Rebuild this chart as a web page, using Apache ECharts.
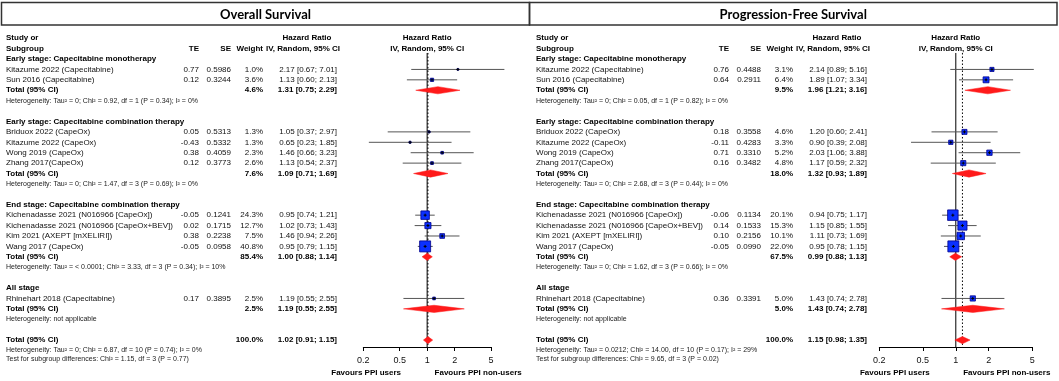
<!DOCTYPE html>
<html>
<head>
<meta charset="utf-8">
<script src="https://cdn.jsdelivr.net/npm/echarts@6/dist/echarts.min.js"></script>
<style>
html, body { margin: 0; padding: 0; background: #fff; }
#chart { width: 1059px; height: 381px; }
</style>
</head>
<body>
<div id="chart"></div>
<script>
// subgroups and studies (same in both panels)
const groupNames = ['Early stage: Capecitabine monotherapy', 'Early stage: Capecitabine combination therapy',
    'End stage: Capecitabine combination therapy', 'All stage'];
const studyNames = ['Kitazume 2022 (Capecitabine)', 'Sun 2016 (Capecitabine)', 'Briduox 2022 (CapeOx)',
    'Kitazume 2022 (CapeOx)', 'Wong 2019 (CapeOx)', 'Zhang 2017(CapeOx)', 'Kichenadasse 2021 (N016966 [CapeOx])',
    'Kichenadasse 2021 (N016966 [CapeOx+BEV])', 'Kim 2021 (AXEPT [mXELIRI])', 'Wang 2017 (CapeOx)',
    'Rhinehart 2018 (Capecitabine)'];
const studyGroup = [0, 0, 1, 1, 1, 1, 2, 2, 2, 2, 3];
const axisTicks = [0.2, 0.5, 1, 2, 5];

// Overall Survival
const osTE = [0.77, 0.12, 0.05, -0.43, 0.38, 0.12, -0.05, 0.02, 0.38, -0.05, 0.17];
const osSE = [0.5986, 0.3244, 0.5313, 0.5332, 0.4059, 0.3773, 0.1241, 0.1715, 0.2238, 0.0958, 0.3895];
const osWeight = [1.0, 3.6, 1.3, 1.3, 2.3, 2.6, 24.3, 12.7, 7.5, 40.8, 2.5];
const osHR = [2.17, 1.13, 1.05, 0.65, 1.46, 1.13, 0.95, 1.02, 1.46, 0.95, 1.19];
const osLower = [0.67, 0.60, 0.37, 0.23, 0.66, 0.54, 0.74, 0.73, 0.94, 0.79, 0.55];
const osUpper = [7.01, 2.13, 2.97, 1.85, 3.23, 2.37, 1.21, 1.43, 2.26, 1.15, 2.55];
const osGroupWeight = [4.6, 7.6, 85.4, 2.5];
const osGroupHR = [1.31, 1.09, 1.00, 1.19];
const osGroupLower = [0.75, 0.71, 0.88, 0.55];
const osGroupUpper = [2.29, 1.69, 1.14, 2.55];
const osGroupHet = [
    'Heterogeneity: Tau² = 0; Chi² = 0.92, df = 1 (P = 0.34); I² = 0%',
    'Heterogeneity: Tau² = 0; Chi² = 1.47, df = 3 (P = 0.69); I² = 0%',
    'Heterogeneity: Tau² = < 0.0001; Chi² = 3.33, df = 3 (P = 0.34); I² = 10%',
    'Heterogeneity: not applicable'];
const osTotal = [1.02, 0.91, 1.15];
const osTotalHet = 'Heterogeneity: Tau² = 0; Chi² = 6.87, df = 10 (P = 0.74); I² = 0%';
const osTest = 'Test for subgroup differences: Chi² = 1.15, df = 3 (P = 0.77)';

// Progression-Free Survival
const pfsTE = [0.76, 0.64, 0.18, -0.11, 0.71, 0.16, -0.06, 0.14, 0.10, -0.05, 0.36];
const pfsSE = [0.4488, 0.2911, 0.3558, 0.4283, 0.3310, 0.3482, 0.1134, 0.1533, 0.2156, 0.0990, 0.3391];
const pfsWeight = [3.1, 6.4, 4.6, 3.3, 5.2, 4.8, 20.1, 15.3, 10.1, 22.0, 5.0];
const pfsHR = [2.14, 1.89, 1.20, 0.90, 2.03, 1.17, 0.94, 1.15, 1.11, 0.95, 1.43];
const pfsLower = [0.89, 1.07, 0.60, 0.39, 1.06, 0.59, 0.75, 0.85, 0.73, 0.78, 0.74];
const pfsUpper = [5.16, 3.34, 2.41, 2.08, 3.88, 2.32, 1.17, 1.55, 1.69, 1.15, 2.78];
const pfsGroupWeight = [9.5, 18.0, 67.5, 5.0];
const pfsGroupHR = [1.96, 1.32, 0.99, 1.43];
const pfsGroupLower = [1.21, 0.93, 0.88, 0.74];
const pfsGroupUpper = [3.16, 1.89, 1.13, 2.78];
const pfsGroupHet = [
    'Heterogeneity: Tau² = 0; Chi² = 0.05, df = 1 (P = 0.82); I² = 0%',
    'Heterogeneity: Tau² = 0; Chi² = 2.68, df = 3 (P = 0.44); I² = 0%',
    'Heterogeneity: Tau² = 0; Chi² = 1.62, df = 3 (P = 0.66); I² = 0%',
    'Heterogeneity: not applicable'];
const pfsTotal = [1.15, 0.98, 1.35];
const pfsTotalHet = 'Heterogeneity: Tau² = 0.0212; Chi² = 14.00, df = 10 (P = 0.17); I² = 29%';
const pfsTest = 'Test for subgroup differences: Chi² = 9.65, df = 3 (P = 0.02)';

const panels = [
    { title: 'Overall Survival', te: osTE, se: osSE, w: osWeight, hr: osHR, lo: osLower, hi: osUpper,
      gw: osGroupWeight, ghr: osGroupHR, glo: osGroupLower, ghi: osGroupUpper, ghet: osGroupHet,
      tot: osTotal, totHet: osTotalHet, test: osTest,
      off: 0, boxL: 1.5, boxR: 529.5, plotL: 363.3, plotW: 127.7 },
    { title: 'Progression-Free Survival', te: pfsTE, se: pfsSE, w: pfsWeight, hr: pfsHR, lo: pfsLower, hi: pfsUpper,
      gw: pfsGroupWeight, ghr: pfsGroupHR, glo: pfsGroupLower, ghi: pfsGroupUpper, ghet: pfsGroupHet,
      tot: pfsTotal, totHet: pfsTotalHet, test: pfsTest,
      off: 530, boxL: 529.5, boxR: 1057, plotL: 879.3, plotW: 153 }
];

const FONT = '"Liberation Sans", Arial, sans-serif';
const ROW0 = 38.2, ROWH = 10.41, AXIS_Y = 347;
const rowY = r => ROW0 + ROWH * r;
const lg = v => Math.log10(v);
const ciText = (a, b, c) => a.toFixed(2) + ' [' + b.toFixed(2) + '; ' + c.toFixed(2) + ']';

function txt(x, y, text, opt) {
    opt = opt || {};
    return {
        type: 'text', x: x, y: y, silent: true,
        style: {
            text: text, fill: opt.fill || '#000',
            font: (opt.bold ? 'bold ' : '') + (opt.size || 8) + 'px ' + (opt.family || FONT),
            align: opt.align || 'left', verticalAlign: 'middle'
        }
    };
}

const graphic = [];
const grids = [], xAxes = [], yAxes = [], series = [];

panels.forEach((p, pi) => {
    const o = p.off;
    // title box
    graphic.push({ type: 'rect', silent: true,
        shape: { x: p.boxL, y: 2.5, width: p.boxR - p.boxL, height: 22.5 },
        style: { fill: 'none', stroke: '#333', lineWidth: 1.5 } });
    graphic.push(txt((p.boxL + p.boxR) / 2, 14.5, p.title, { bold: true, size: 13, family: 'Lato, "Open Sans", sans-serif', align: 'center' }));

    // column headers
    graphic.push(txt(o + 6, rowY(0), 'Study or', { bold: true }));
    graphic.push(txt(o + 6, rowY(1), 'Subgroup', { bold: true }));
    graphic.push(txt(o + 199, rowY(1), 'TE', { bold: true, align: 'right' }));
    graphic.push(txt(o + 231, rowY(1), 'SE', { bold: true, align: 'right' }));
    graphic.push(txt(o + 263, rowY(1), 'Weight', { bold: true, align: 'right' }));
    graphic.push(txt(o + 307, rowY(0), 'Hazard Ratio', { bold: true, align: 'center' }));
    graphic.push(txt(o + 303, rowY(1), 'IV, Random, 95% CI', { bold: true, align: 'center' }));

    const studyData = [], diamondData = [];
    const maxW = Math.max.apply(null, p.w);
    let row = 2;
    groupNames.forEach((g, gi) => {
        graphic.push(txt(o + 6, rowY(row), g, { bold: true }));
        row++;
        studyNames.forEach((s, si) => {
            if (studyGroup[si] !== gi) return;
            const y = rowY(row);
            graphic.push(txt(o + 6, y, s, { fill: '#111' }));
            graphic.push(txt(o + 199, y, p.te[si].toFixed(2), { align: 'right', fill: '#111' }));
            graphic.push(txt(o + 231, y, p.se[si].toFixed(4), { align: 'right', fill: '#111' }));
            graphic.push(txt(o + 263, y, p.w[si].toFixed(1) + '%', { align: 'right', fill: '#111' }));
            graphic.push(txt(o + 337, y, ciText(p.hr[si], p.lo[si], p.hi[si]), { align: 'right', fill: '#111' }));
            studyData.push([lg(p.hr[si]), lg(p.lo[si]), lg(p.hi[si]), row, 11 * Math.sqrt(p.w[si] / maxW)]);
            row++;
        });
        graphic.push(txt(o + 6, rowY(row), 'Total (95% CI)', { bold: true }));
        graphic.push(txt(o + 263, rowY(row), p.gw[gi].toFixed(1) + '%', { bold: true, align: 'right' }));
        graphic.push(txt(o + 337, rowY(row), ciText(p.ghr[gi], p.glo[gi], p.ghi[gi]), { bold: true, align: 'right' }));
        diamondData.push([lg(p.ghr[gi]), lg(p.glo[gi]), lg(p.ghi[gi]), row]);
        row++;
        graphic.push(txt(o + 6, rowY(row), p.ghet[gi], { size: 7, fill: '#222' }));
        row += 2;
    });
    graphic.push(txt(o + 6, rowY(row), 'Total (95% CI)', { bold: true }));
    graphic.push(txt(o + 263, rowY(row), '100.0%', { bold: true, align: 'right' }));
    graphic.push(txt(o + 337, rowY(row), ciText(p.tot[0], p.tot[1], p.tot[2]), { bold: true, align: 'right' }));
    diamondData.push([lg(p.tot[0]), lg(p.tot[1]), lg(p.tot[2]), row]);
    graphic.push(txt(o + 6, rowY(row + 1), p.totHet, { size: 7, fill: '#222' }));
    graphic.push(txt(o + 6, rowY(row + 2) - 1.5, p.test, { size: 7, fill: '#222' }));

    // forest plot headers and favours labels
    const x1 = p.plotL + p.plotW / 2;
    graphic.push(txt(x1, rowY(0), 'Hazard Ratio', { bold: true, align: 'center' }));
    graphic.push(txt(x1, rowY(1), 'IV, Random, 95% CI', { bold: true, align: 'center' }));
    graphic.push(txt(x1 - 61, 373, 'Favours PPI users', { bold: true, align: 'center' }));
    graphic.push(txt(x1 + 51, 373, 'Favours PPI non-users', { bold: true, align: 'center' }));

    const maxRow = (AXIS_Y - ROW0) / ROWH;
    grids.push({ left: p.plotL, width: p.plotW, top: ROW0, height: AXIS_Y - ROW0, containLabel: false, outerBoundsMode: 'none' });
    xAxes.push({
        type: 'value', gridIndex: pi, position: 'bottom', min: lg(0.2), max: lg(5),
        axisLine: { show: true, onZero: false, lineStyle: { color: '#000', width: 1 } },
        axisTick: { show: true, length: 4, customValues: axisTicks.map(lg), lineStyle: { color: '#000' } },
        axisLabel: { show: true, margin: 9, color: '#111', fontSize: 9, fontFamily: FONT,
            customValues: axisTicks.map(lg),
            formatter: v => String(+Math.pow(10, v).toFixed(1)) },
        splitLine: { show: false }
    });
    yAxes.push({ type: 'value', gridIndex: pi, min: 0, max: maxRow, inverse: true, show: false });

    // reference line at HR = 1 and dotted line at pooled estimate
    series.push({ type: 'line', xAxisIndex: pi, yAxisIndex: pi, symbol: 'none', silent: true, z: 1,
        lineStyle: { color: '#000', width: 1 }, data: [[lg(1), 1.42], [lg(1), maxRow]] });
    series.push({ type: 'line', xAxisIndex: pi, yAxisIndex: pi, symbol: 'none', silent: true, z: 1,
        lineStyle: { color: '#000', width: 1, type: [1.5, 2] }, data: [[lg(p.tot[0]), 1.42], [lg(p.tot[0]), maxRow]] });

    series.push({
        type: 'custom', xAxisIndex: pi, yAxisIndex: pi, z: 3, clip: false, silent: true,
        encode: { x: [0, 1, 2], y: 3 },
        data: studyData,
        renderItem: (params, api) => {
            const r = api.value(3);
            const c = api.coord([api.value(0), r]);
            const a = api.coord([api.value(1), r]);
            const b = api.coord([api.value(2), r]);
            const s = api.value(4);
            return { type: 'group', children: [
                { type: 'line', shape: { x1: a[0], y1: a[1], x2: b[0], y2: b[1] }, style: { stroke: '#555', lineWidth: 1 } },
                { type: 'rect', shape: { x: c[0] - s / 2, y: c[1] - s / 2, width: s, height: s },
                  style: { fill: '#0b30ff', stroke: '#00008b', lineWidth: 0.8 } },
                { type: 'line', shape: { x1: c[0] - 1.5, y1: c[1], x2: c[0] + 1.5, y2: c[1] }, style: { stroke: '#000', lineWidth: 1 } },
                { type: 'line', shape: { x1: c[0], y1: c[1] - 1.5, x2: c[0], y2: c[1] + 1.5 }, style: { stroke: '#000', lineWidth: 1 } }
            ] };
        }
    });
    series.push({
        type: 'custom', xAxisIndex: pi, yAxisIndex: pi, z: 3, clip: false, silent: true,
        encode: { x: [0, 1, 2], y: 3 },
        data: diamondData,
        renderItem: (params, api) => {
            const r = api.value(3);
            const c = api.coord([api.value(0), r]);
            const a = api.coord([api.value(1), r]);
            const b = api.coord([api.value(2), r]);
            const h = 3.6;
            return { type: 'polygon',
                shape: { points: [[a[0], a[1]], [c[0], c[1] - h], [b[0], b[1]], [c[0], c[1] + h]] },
                style: { fill: '#ff1a1a', stroke: '#ff1a1a', lineWidth: 0.5 } };
        }
    });
});

const chart = echarts.init(document.getElementById('chart'));
chart.setOption({
    animation: false,
    backgroundColor: '#fff',
    grid: grids,
    xAxis: xAxes,
    yAxis: yAxes,
    series: series,
    graphic: graphic
});
</script>
</body>
</html>
